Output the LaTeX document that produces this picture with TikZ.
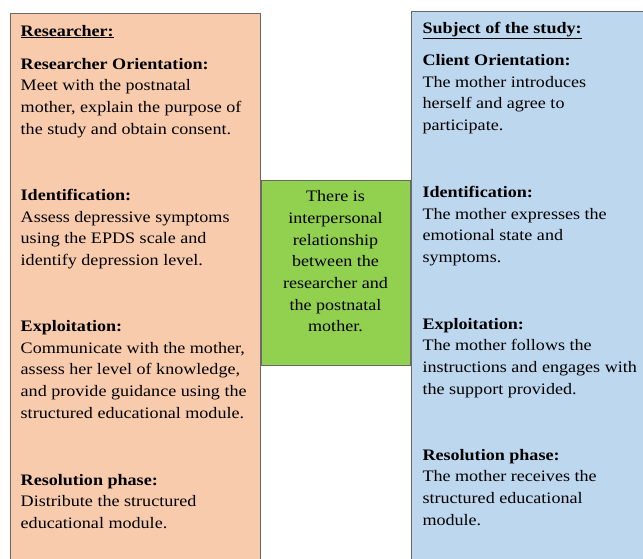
\documentclass[tikz,border=0pt]{standalone}
\usepackage{fontspec}
\setmainfont{Liberation Serif}[FakeStretch=1.13]
\usetikzlibrary{positioning}
\definecolor{PeachFill}{RGB}{248,203,173}
\definecolor{SkyFill}{RGB}{189,215,238}
\definecolor{LeafFill}{RGB}{146,208,80}
\definecolor{EdgeGrey}{RGB}{105,105,105}

\begin{document}
\begin{tikzpicture}[x=1pt,y=-1pt,
          panel/.style={draw=EdgeGrey,line width=1pt,anchor=north west,inner sep=0pt},
          txt/.style={anchor=base west,inner sep=0pt,align=left,
                      font=\fontsize{16}{21.6}\selectfont,text=black},
          mid/.style={anchor=base,inner sep=0pt,align=center,
                      font=\fontsize{16}{21.7}\selectfont,text=black}
        ]
          \useasboundingbox (0,0) rectangle (643,558);
          \clip (0,0) rectangle (643,558);

          % the two columns
          \node(lpanel)[panel,fill=PeachFill,minimum width=250.5pt,minimum height=560pt] at (9.5,13.3) {};
          \node(rpanel)[panel,fill=SkyFill,minimum width=250pt,minimum height=560pt] at (410.5,11) {};
          \node(link)[panel,fill=LeafFill,minimum width=149.5pt,minimum height=185pt] at (260.7,180.3) {};

          % researcher side (placed by the baseline of the last line)
          \node(lhead)[txt] at (20.5,36) {\underline{\textbf{Researcher:}}};
          \node(lorient)[txt] at (20.5,134) {\textbf{Researcher Orientation:}\\Meet with the postnatal\\mother, explain the purpose of\\the study and obtain consent.};
          \node(lident)[txt] at (20.5,265.5) {\textbf{Identification:}\\Assess depressive symptoms\\using the EPDS scale and\\identify depression level.};
          \node(lexploit)[txt] at (20.5,418) {\textbf{Exploitation:}\\Communicate with the mother,\\assess her level of knowledge,\\and provide guidance using the\\structured educational module.};
          \node(lresol)[txt] at (20.5,528.5) {\textbf{Resolution phase:}\\Distribute the structured\\educational module.};

          % subject side
          \node(rhead)[txt] at (422.3,33.5) {\underline{\textbf{Subject of the study:}}};
          \node(rorient)[txt] at (422.3,130.5) {\textbf{Client Orientation:}\\The mother introduces\\herself and agree to\\participate.};
          \node(rident)[txt] at (422.3,262.5) {\textbf{Identification:}\\The mother expresses the\\emotional state and\\symptoms.};
          \node(rexploit)[txt] at (422.3,394) {\textbf{Exploitation:}\\The mother follows the\\instructions and engages with\\the support provided.};
          \node(rresol)[txt] at (422.3,525) {\textbf{Resolution phase:}\\The mother receives the\\structured educational\\module.};

          % relationship
          \node(ltext)[mid] at (335.5,331.9) {There is\\interpersonal\\relationship\\between the\\researcher and\\the postnatal\\mother.};
        \end{tikzpicture}
\end{document}
